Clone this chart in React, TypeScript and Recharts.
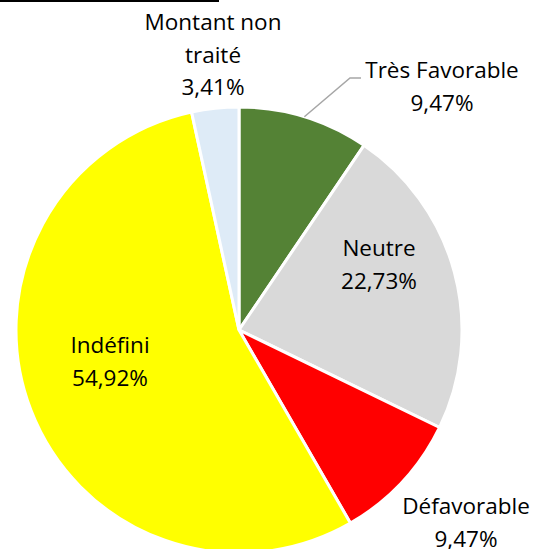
import { PieChart, Pie, Cell } from "recharts";

const categories = [
  "Très Favorable",
  "Neutre",
  "Défavorable",
  "Indéfini",
  "Montant non traité",
];
const shares = [9.47, 22.73, 9.47, 54.92, 3.41];
const colors = ["#548235", "#D9D9D9", "#FF0000", "#FFFF00", "#DEEBF7"];
// how each category name wraps in its label
const nameLines = [
  ["Très Favorable"],
  ["Neutre"],
  ["Défavorable"],
  ["Indéfini"],
  ["Montant non", "traité"],
];

// label block centres, relative to the pie centre
const labelOffsets = [
  [203, -244],
  [140, -66],
  [227, 192],
  [-129, 31],
  [-26, -276],
];

const data = categories.map((name, i) => ({ name, value: shares[i] }));

const RAD = Math.PI / 180;
const LINE_H = 32.5;

function renderLabel(props: any) {
  const { cx, cy, index, midAngle, outerRadius } = props;
  const [dx, dy] = labelOffsets[index];
  const lines = [...nameLines[index], shares[index].toFixed(2).replace(".", ",") + "%"];
  const x = cx + dx;
  const y0 = cy + dy - ((lines.length - 1) * LINE_H) / 2;

  // leader line only for the first slice (label sits outside)
  let leader = null;
  if (index === 0) {
    const sx = cx + outerRadius * Math.cos(-midAngle * RAD);
    const sy = cy + outerRadius * Math.sin(-midAngle * RAD);
    const ey = cy + dy - 8;
    leader = (
      <polyline
        points={`${sx},${sy} ${x - 92},${ey} ${x - 81},${ey}`}
        fill="none"
        stroke="#A6A6A6"
        strokeWidth={1.5}
      />
    );
  }

  return (
    <g key={`lbl-${index}`}>
      {leader}
      <text
        x={x}
        y={y0}
        textAnchor="middle"
        fontFamily="'Open Sans', sans-serif"
        fontSize={22.5}
        fill="#000"
      >
        {lines.map((l, i) => (
          <tspan key={i} x={x} y={y0 + i * LINE_H} dominantBaseline="central">
            {l}
          </tspan>
        ))}
      </text>
    </g>
  );
}

export default function App() {
  return (
    <div
      style={{
        position: "absolute",
        left: 0,
        top: 0,
        width: 535,
        height: 549,
        background: "#fff",
        overflow: "hidden",
      }}
    >
      <div
        style={{
          position: "absolute",
          left: 0,
          top: 0,
          width: 219,
          height: 2,
          background: "#000",
        }}
      />
      <PieChart
        width={535}
        height={549}
        margin={{ top: 0, right: 0, bottom: 0, left: 0 }}
      >
        <Pie
          data={data}
          dataKey="value"
          nameKey="name"
          cx={239}
          cy={330}
          outerRadius={223}
          startAngle={90}
          endAngle={-270}
          stroke="#fff"
          strokeWidth={3}
          label={renderLabel}
          labelLine={false}
          isAnimationActive={false}
        >
          {data.map((d, i) => (
            <Cell key={d.name} fill={colors[i]} />
          ))}
        </Pie>
      </PieChart>
    </div>
  );
}
